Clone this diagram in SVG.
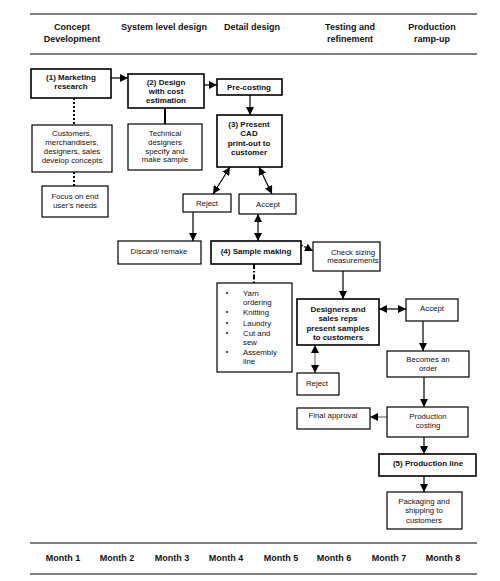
<svg xmlns="http://www.w3.org/2000/svg" width="500" height="581" viewBox="0 0 500 581">
<style>
text{font-family:"Liberation Sans",Arial,sans-serif;font-size:7.8px;fill:#111;text-anchor:middle}
.b{font-weight:bold;font-size:8px}
.h{font-weight:bold;font-size:9px}
.m{font-weight:bold;font-size:9px}
.box{fill:#fff;stroke:#000;stroke-width:1.2}
.tk{stroke-width:1.6}
.ln{stroke:#000;stroke-width:1.2;fill:none}
.gr{stroke:#999;stroke-width:1.6;fill:none}
.rule{stroke:#000;stroke-width:1.2}
.lt{text-anchor:start}
</style>
<defs>
<marker id="ah" viewBox="0 0 10 10" refX="10" refY="5" markerWidth="8" markerHeight="8" orient="auto-start-reverse" markerUnits="userSpaceOnUse"><path d="M0,0 L10,5 L0,10 z" fill="#000"/></marker>
</defs>
<rect width="500" height="581" fill="#fff"/>
<g id="header">
<line class="rule" x1="30" y1="14" x2="477" y2="14"/>
<line class="rule" x1="30" y1="54" x2="477" y2="54"/>
<text class="h" x="72" y="30">Concept</text>
<text class="h" x="72" y="42">Development</text>
<text class="h" x="164" y="30">System level design</text>
<text class="h" x="252" y="30">Detail design</text>
<text class="h" x="350" y="30">Testing and</text>
<text class="h" x="350" y="42">refinement</text>
<text class="h" x="432" y="30">Production</text>
<text class="h" x="432" y="42">ramp-up</text>
</g>
<g id="footer">
<line class="rule" x1="30" y1="543" x2="477" y2="543"/>
<line class="rule" x1="30" y1="574" x2="477" y2="574"/>
<text class="m" x="63" y="561">Month 1</text>
<text class="m" x="117" y="561">Month 2</text>
<text class="m" x="172" y="561">Month 3</text>
<text class="m" x="226" y="561">Month 4</text>
<text class="m" x="281" y="561">Month 5</text>
<text class="m" x="334" y="561">Month 6</text>
<text class="m" x="389" y="561">Month 7</text>
<text class="m" x="443" y="561">Month 8</text>
</g>
<g id="connectors">
<line class="ln" x1="111" y1="78" x2="128" y2="78" marker-end="url(#ah)"/>
<line class="ln" x1="204" y1="85" x2="217" y2="85" marker-end="url(#ah)"/>
<line x1="74" y1="98" x2="74" y2="125" stroke="#000" stroke-width="2" stroke-dasharray="2,2"/>
<line x1="74" y1="172" x2="74" y2="186" stroke="#000" stroke-width="2" stroke-dasharray="2,2"/>
<line x1="165" y1="108" x2="165" y2="124" stroke="#000" stroke-width="2"/>
<line class="ln" x1="250" y1="95" x2="250" y2="115" marker-end="url(#ah)"/>
<line class="ln" x1="230" y1="167" x2="213" y2="194" marker-start="url(#ah)" marker-end="url(#ah)"/>
<line class="ln" x1="259" y1="167" x2="272" y2="194" marker-start="url(#ah)" marker-end="url(#ah)"/>
<line class="ln" x1="193" y1="212" x2="193" y2="241" marker-end="url(#ah)"/>
<line class="ln" x1="258" y1="214" x2="258" y2="241" marker-start="url(#ah)" marker-end="url(#ah)"/>
<line class="ln" x1="301" y1="245" x2="313" y2="251" stroke-dasharray="2,1.5" marker-end="url(#ah)"/>
<line x1="254" y1="264" x2="254" y2="283" stroke="#000" stroke-width="2" stroke-dasharray="5,2,1.5,2"/>
<line class="ln" x1="343" y1="271" x2="343" y2="299" marker-end="url(#ah)"/>
<line class="ln" x1="379" y1="309" x2="406" y2="309" marker-start="url(#ah)" marker-end="url(#ah)"/>
<line class="gr" x1="315" y1="345" x2="315" y2="373" marker-start="url(#ah)" marker-end="url(#ah)"/>
<line class="ln" x1="423" y1="321" x2="423" y2="351" marker-end="url(#ah)"/>
<line class="ln" x1="424" y1="377" x2="424" y2="407" marker-end="url(#ah)"/>
<line class="gr" x1="387" y1="417" x2="370" y2="417" marker-end="url(#ah)"/>
<line class="ln" x1="424" y1="437" x2="424" y2="454" marker-end="url(#ah)"/>
<line class="ln" x1="424" y1="476" x2="424" y2="492" marker-end="url(#ah)"/>
</g>
<g id="marketing">
<rect class="box tk" x="31" y="69" width="80" height="29"/>
<text class="b" x="71" y="80">(1) Marketing</text>
<text class="b" x="71" y="89">research</text>
</g>
<g id="design">
<rect class="box tk" x="128" y="74" width="76" height="34"/>
<text class="b" x="166" y="85">(2) Design</text>
<text class="b" x="166" y="94">with cost</text>
<text class="b" x="166" y="103">estimation</text>
</g>
<g id="customers">
<rect class="box" x="32" y="125" width="80" height="47"/>
<text x="72" y="136">Customers,</text>
<text x="72" y="145">merchandisers,</text>
<text x="72" y="154">designers, sales</text>
<text x="72" y="163">develop concepts</text>
</g>
<g id="focus">
<rect class="box" x="42" y="186" width="66" height="31"/>
<text x="75" y="199">Focus on end</text>
<text x="75" y="208">user's needs</text>
</g>
<g id="technical">
<rect class="box" x="128" y="124" width="74" height="46"/>
<text x="165" y="136">Technical</text>
<text x="165" y="145">designers</text>
<text x="165" y="154">specify and</text>
<text x="165" y="162">make sample</text>
</g>
<g id="precosting">
<rect class="box tk" x="217" y="79" width="65" height="16"/>
<text class="b" x="249" y="90">Pre-costing</text>
</g>
<g id="cad">
<rect class="box tk" x="217" y="115" width="65" height="52"/>
<text class="b" x="249" y="127">(3) Present</text>
<text class="b" x="249" y="136">CAD</text>
<text class="b" x="249" y="146">print-out to</text>
<text class="b" x="249" y="155">customer</text>
</g>
<g id="reject1">
<rect class="box" x="183" y="194" width="48" height="18"/>
<text x="207" y="206">Reject</text>
</g>
<g id="accept1">
<rect class="box" x="239" y="194" width="57" height="20"/>
<text x="268" y="207">Accept</text>
</g>
<g id="discard">
<rect class="box" x="118" y="241" width="83" height="23"/>
<text x="159" y="254">Discard/ remake</text>
</g>
<g id="sample">
<rect class="box tk" x="211" y="241" width="90" height="23"/>
<text class="b" x="256" y="254">(4) Sample making</text>
</g>
<g id="steps">
<rect class="box" x="217" y="283" width="75" height="89"/>
<g fill="#000"><circle cx="227" cy="293" r="0.9"/><circle cx="227" cy="312" r="0.9"/><circle cx="227" cy="323" r="0.9"/><circle cx="227" cy="333" r="0.9"/><circle cx="227" cy="352" r="0.9"/></g>
<text class="lt" x="243" y="296">Yarn</text>
<text class="lt" x="243" y="305">ordering</text>
<text class="lt" x="243" y="315">Knitting</text>
<text class="lt" x="243" y="326">Laundry</text>
<text class="lt" x="243" y="336">Cut and</text>
<text class="lt" x="243" y="345">sew</text>
<text class="lt" x="243" y="355">Assembly</text>
<text class="lt" x="243" y="364">line</text>
</g>
<g id="checksizing">
<rect class="box" x="313" y="242" width="67" height="29"/>
<text x="353" y="255">Check sizing</text>
<text x="353" y="263">measurements</text>
</g>
<g id="present">
<rect class="box tk" x="297" y="299" width="82" height="46"/>
<text class="b" x="338" y="312">Designers and</text>
<text class="b" x="338" y="321">sales reps</text>
<text class="b" x="338" y="331">present samples</text>
<text class="b" x="338" y="340">to customers</text>
</g>
<g id="accept2">
<rect class="box" x="406" y="299" width="52" height="22"/>
<text x="432" y="311">Accept</text>
</g>
<g id="reject2">
<rect class="box" x="297" y="373" width="42" height="22"/>
<text x="317" y="386">Reject</text>
</g>
<g id="order">
<rect class="box" x="387" y="351" width="82" height="26"/>
<text x="428" y="362">Becomes an</text>
<text x="428" y="371">order</text>
</g>
<g id="finalapproval">
<rect class="box" x="297" y="408" width="73" height="21"/>
<text x="333" y="418">Final approval</text>
</g>
<g id="costing">
<rect class="box" x="387" y="407" width="81" height="30"/>
<text x="428" y="419">Production</text>
<text x="428" y="428">costing</text>
</g>
<g id="productionline">
<rect class="box tk" x="379" y="454" width="97" height="22"/>
<text class="b" x="428" y="466">(5) Production line</text>
</g>
<g id="packaging">
<rect class="box" x="387" y="492" width="75" height="37"/>
<text x="424" y="504">Packaging and</text>
<text x="424" y="513">shipping to</text>
<text x="424" y="523">customers</text>
</g>
</svg>
